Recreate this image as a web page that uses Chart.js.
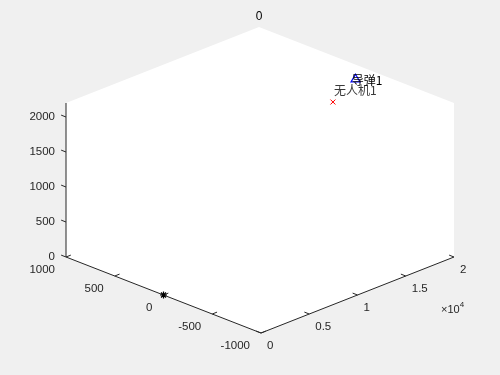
<!DOCTYPE html>
<html><head><meta charset="utf-8">
<script src="https://cdn.jsdelivr.net/npm/chart.js@4.4.0/dist/chart.umd.min.js"></script>
<style>html,body{margin:0;padding:0;background:#f0f0f0;overflow:hidden}#c{display:block}</style>
</head><body>
<canvas id="c" width="500" height="375"></canvas>
<script>
// ---- data ----
const titleText = '0';
const xLimits = [0, 20000];
const yLimits = [-1000, 1000];
const zLimits = [0, 2200];
const xTicks = [0, 5000, 10000, 15000, 20000];
const xTickLabels = ['0', '0.5', '1', '1.5', '2'];
const yTicks = [-1000, -500, 0, 500, 1000];
const yTickLabels = ['-1000', '-500', '0', '500', '1000'];
const zTicks = [0, 500, 1000, 1500, 2000];
const zTickLabels = ['0', '500', '1000', '1500', '2000'];
const xExponent = '4';
const droneXYZ = [15740, -180, 2000];
const missileXYZ = [19900, 0, 2000];
const startXYZ = [0, 0, 0];
const labelNames = ['无人机1', '导弹1'];
const droneLabelXYZ = [15740, -180, 2160];
const missileLabelXYZ = [19500, 0, 2000];

// ---- view (projection of the 3-D box onto the canvas plane) ----
const VIEW = { ox: 261, oy: 333, ex: [193, -76], ey: [-195, -76], ez: [0, -154] };
function proj(x, y, z) {
  const xn = (x - xLimits[0]) / (xLimits[1] - xLimits[0]);
  const yn = (y - yLimits[0]) / (yLimits[1] - yLimits[0]);
  const zn = (z - zLimits[0]) / (zLimits[1] - zLimits[0]);
  return {
    x: VIEW.ox + xn * VIEW.ex[0] + yn * VIEW.ey[0] + zn * VIEW.ez[0],
    y: VIEW.oy + xn * VIEW.ex[1] + yn * VIEW.ey[1] + zn * VIEW.ez[1]
  };
}
const X0 = xLimits[0], X1 = xLimits[1], Y0 = yLimits[0], Y1 = yLimits[1], Z0 = zLimits[0], Z1 = zLimits[1];
const TL = 0.025; // tick length as a fraction of axis range

const boxPts = [proj(X0, Y0, Z0), proj(X1, Y0, Z0), proj(X1, Y0, Z1), proj(X1, Y1, Z1), proj(X0, Y1, Z1), proj(X0, Y1, Z0), proj(X0, Y0, Z0)];
const AX = '#262626';
function lineDs(pts, color, w, order) {
  return { type: 'line', data: pts, borderColor: color, borderWidth: w, pointRadius: 0, fill: false, tension: 0, order: order };
}
const datasets = [];
datasets.push({ type: 'line', data: boxPts, borderWidth: 0, borderColor: 'rgba(0,0,0,0)', backgroundColor: '#ffffff', pointRadius: 0, fill: 'shape', tension: 0, order: 5 });
// axis lines
datasets.push(lineDs([proj(X0, Y1, Z0), proj(X0, Y1, Z1)], AX, 1, 2));
datasets.push(lineDs([proj(X0, Y1, Z0), proj(X0, Y0, Z0)], AX, 1, 2));
datasets.push(lineDs([proj(X0, Y0, Z0), proj(X1, Y0, Z0)], AX, 1, 2));
// ticks
const dx = (X1 - X0) * TL, dy = (Y1 - Y0) * TL;
zTicks.forEach(t => datasets.push(lineDs([proj(X0, Y1, t), proj(X0, Y1 + dy, t)], AX, 1, 2)));
yTicks.forEach(t => datasets.push(lineDs([proj(X0, t, Z0), proj(X0 + dx, t, Z0)], AX, 1, 2)));
xTicks.forEach(t => datasets.push(lineDs([proj(t, Y0, Z0), proj(t, Y0 + dy, Z0)], AX, 1, 2)));
// markers
datasets.push({ type: 'scatter', data: [proj(...droneXYZ)], pointStyle: 'crossRot', pointRadius: 3.5, borderColor: '#ff0000', backgroundColor: 'rgba(0,0,0,0)', borderWidth: 1, order: 0 });
datasets.push({ type: 'scatter', data: [proj(...missileXYZ)], pointStyle: 'triangle', pointRadius: 5.2, borderColor: '#0000ff', backgroundColor: 'rgba(0,0,0,0)', borderWidth: 1.2, order: 0 });
datasets.push({ type: 'scatter', data: [proj(...startXYZ)], pointStyle: 'star', pointRadius: 3.5, borderColor: '#000000', backgroundColor: 'rgba(0,0,0,0)', borderWidth: 1.2, order: 0 });

const LAT = '"Liberation Sans", Arial, Helvetica, sans-serif';
const textPlugin = {
  id: 'texts',
  afterDatasetsDraw(chart) {
    const ctx = chart.ctx, sx = chart.scales.x, sy = chart.scales.y;
    const px = p => ({ x: sx.getPixelForValue(p.x), y: sy.getPixelForValue(p.y) });
    ctx.save();
    ctx.fillStyle = AX;
    ctx.font = '11.5px ' + LAT;
    ctx.textBaseline = 'middle';
    ctx.textAlign = 'right';
    zTicks.forEach((t, i) => { const p = px(proj(X0, Y1, t)); ctx.fillText(zTickLabels[i], p.x - 11, p.y); });
    yTicks.forEach((t, i) => { const p = px(proj(X0, t, Z0)); ctx.fillText(yTickLabels[i], p.x - 11, p.y + 12.5); });
    ctx.textAlign = 'left';
    xTicks.forEach((t, i) => { const p = px(proj(t, Y0, Z0)); ctx.fillText(xTickLabels[i], p.x + 6, p.y + 12.5); });
    // exponent
    const e = px(proj(X1, Y0, Z0));
    ctx.font = '11px ' + LAT;
    ctx.fillText('\u00d710', e.x - 13, e.y + 53);
    const w = ctx.measureText('\u00d710').width;
    ctx.font = '8px ' + LAT;
    ctx.fillText(xExponent, e.x - 13 + w, e.y + 48);
    // title
    const top = px(proj(X1, Y1, Z1));
    ctx.fillStyle = '#000';
    ctx.font = '12px ' + LAT;
    ctx.textAlign = 'center';
    ctx.fillText(titleText, top.x, top.y - 10);
    // point labels
    ctx.textAlign = 'left';
    ctx.font = '12px "Noto Sans CJK SC", sans-serif';
    let p = px(proj(...droneLabelXYZ));
    ctx.fillStyle = '#3a3a3a';
    ctx.fillText(labelNames[0], p.x + 1, p.y);
    p = px(proj(...missileLabelXYZ));
    ctx.fillStyle = '#000';
    ctx.fillText(labelNames[1], p.x, p.y);
    ctx.restore();
  }
};

new Chart(document.getElementById('c'), {
  type: 'scatter',
  data: { datasets },
  options: {
    responsive: false, animation: false, devicePixelRatio: 1,
    layout: { padding: 0, autoPadding: false },
    plugins: { legend: { display: false }, tooltip: { enabled: false }, title: { display: false } },
    scales: {
      x: { type: 'linear', min: 0, max: 500, display: false },
      y: { type: 'linear', min: 0, max: 375, reverse: true, display: false }
    }
  },
  plugins: [textPlugin]
});
</script>
</body></html>
